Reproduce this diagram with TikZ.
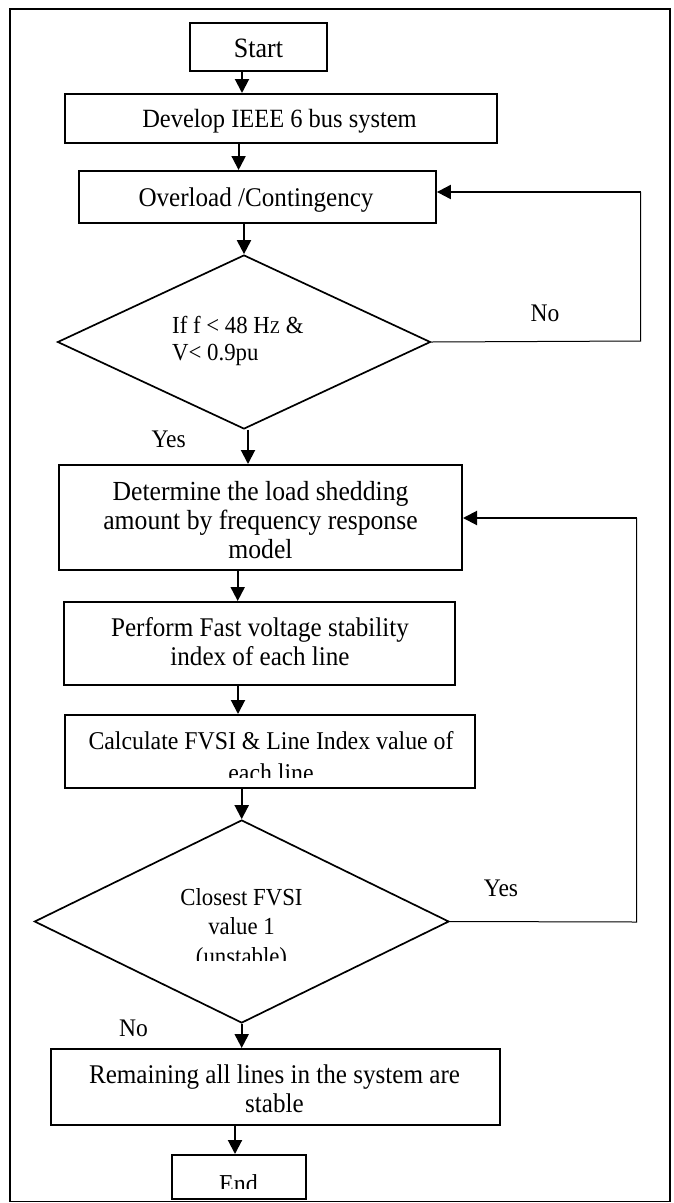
\documentclass[tikz,border=0pt]{standalone}
\usepackage{fontspec}
\setmainfont{Liberation Serif}[FakeStretch=0.93]
\usetikzlibrary{arrows.meta,shapes.geometric}
\begin{document}
\begin{tikzpicture}[x=1pt,y=-1pt,
  boxs/.style={draw, line width=2pt, rectangle, inner sep=0pt},
  dia/.style={draw, line width=1.7pt, diamond, inner sep=0pt},
  txt/.style={inner sep=0pt, anchor=base, font=\fontsize{27}{29}\selectfont},
  dtxt/.style={inner sep=0pt, anchor=base, font=\fontsize{24.5}{29}\selectfont},
  lbl/.style={inner sep=0pt, anchor=base, font=\fontsize{25.3}{29}\selectfont},
  arr/.style={line width=2pt, -{Triangle[length=14pt,width=14pt]}},
  thinl/.style={line width=1pt}]
\useasboundingbox (0,0) rectangle (674,1203);
\draw[line width=1.5pt] (10,9) rectangle (670,1201.5);

% boxes
\node[boxs, minimum width=137pt, minimum height=48pt] (start) at (258.5,47) {};
\node[boxs, minimum width=432.5pt, minimum height=49pt] (dev) at (281,118.5) {};
\node[boxs, minimum width=357pt, minimum height=52pt] (over) at (257.4,197) {};
\node[dia, minimum width=373pt, minimum height=174pt] (d1) at (244,342) {};
\node[boxs, minimum width=403pt, minimum height=105pt] (det) at (260.5,517.5) {};
\node[boxs, minimum width=390.5pt, minimum height=83pt] (perf) at (259.7,643.5) {};
\node[boxs, minimum width=410pt, minimum height=73pt] (calc) at (270,751.5) {};
\node[dia, minimum width=414.6pt, minimum height=203pt] (d2) at (241.7,921.5) {};
\node[boxs, minimum width=449pt, minimum height=76pt] (rem) at (275,1087) {};
\node[boxs, minimum width=134.5pt, minimum height=44pt] (end) at (239,1177) {};

% texts
\node[txt, font=\fontsize{28}{29}\selectfont] (tstart) at (258.5,57.3) {Start};
\node[txt, font=\fontsize{26.3}{29}\selectfont] (tdev) at (279.5,127.7) {Develop IEEE 6 bus system};
\node[txt] (tover) at (256,206) {Overload /Contingency};
\node[dtxt, anchor=base west] (td1a) at (172,333) {If f < 48 H{\fontsize{18}{20}\selectfont Z} \&};
\node[dtxt, anchor=base west] (td1b) at (172,360.7) {V< 0.9pu};
\node[txt, font=\fontsize{27.6}{29}\selectfont] (tdet1) at (260.5,500) {Determine the load shedding};
\node[txt, font=\fontsize{27.6}{29}\selectfont] (tdet2) at (260.5,529) {amount by frequency response};
\node[txt, font=\fontsize{27.6}{29}\selectfont] (tdet3) at (260.5,558) {model};
\node[txt] (tperf1) at (260,636) {Perform Fast voltage stability};
\node[txt] (tperf2) at (260,665) {index of each line};
\node[txt, font=\fontsize{25.6}{29}\selectfont] (tcalc1) at (271,749.5) {Calculate FVSI \& Line Index value of};
\begin{scope}
  \clip (70,755) rectangle (470,777.5);
  \node[txt, font=\fontsize{25.6}{29}\selectfont] (tcalc2) at (271,781) {each line};
\end{scope}
\node[dtxt] (td2a) at (241.5,905) {Closest FVSI};
\node[dtxt] (td2b) at (241.5,934) {value 1};
\begin{scope}
  \clip (150,940) rectangle (340,960.5);
  \node[dtxt] (td2c) at (241.5,964) {(unstable)};
\end{scope}
\node[txt] (trem1) at (274.5,1083.3) {Remaining all lines in the system are};
\node[txt] (trem2) at (274.5,1112.7) {stable};
\begin{scope}
  \clip (180,1160) rectangle (300,1188.5);
  \node[txt, font=\fontsize{25.8}{29}\selectfont] (tend) at (238.5,1192) {End};
\end{scope}

% labels
\node[lbl] (lno1) at (545,321) {No};
\node[lbl] (lyes1) at (168.7,447) {Yes};
\node[lbl] (lyes2) at (501,896.7) {Yes};
\node[lbl] (lno2) at (133.5,1036) {No};

% arrows
\draw[arr] (start.south -| 242,0) -- (dev.north -| 242,0);
\draw[arr] (dev.south -| 238.6,0) -- (over.north -| 238.6,0);
\draw[arr] (over.south -| d1.north) -- (d1.north);
\draw[arr] (d1.south -| 248,0) -- (det.north -| 248,0);
\draw[arr] (det.south -| 237.7,0) -- (perf.north -| 237.7,0);
\draw[arr] (perf.south -| 238,0) -- (calc.north -| 238,0);
\draw[arr] (calc.south -| d2.north) -- (d2.north);
\draw[arr] (d2.south) -- (d2.south |- rem.north);
\draw[arr] (rem.south -| 235,0) -- (end.north -| 235,0);

% feedback loops
\coordinate (c1) at (640.5,341);
\coordinate (c1t) at (640.5,192);
\draw[thinl] (d1.east) -- (c1) -- (c1t);
\draw[arr] (c1t) -- (c1t -| over.east);
\coordinate (c2) at (636.5,922);
\coordinate (c2t) at (636.5,518);
\draw[thinl] (d2.east) -- (c2) -- (c2t);
\draw[arr] (c2t) -- (c2t -| det.east);
\end{tikzpicture}
\end{document}
